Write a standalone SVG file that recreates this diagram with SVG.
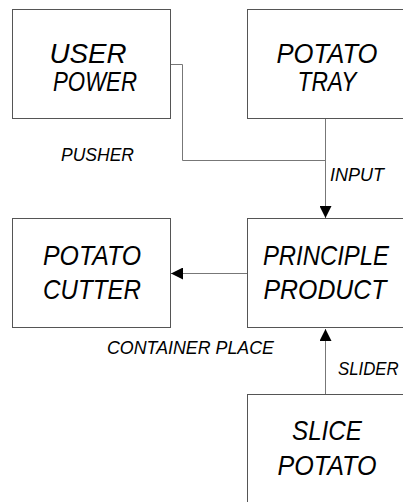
<svg xmlns="http://www.w3.org/2000/svg" width="403" height="502" viewBox="0 0 403 502">
<style>
.box{fill:#fff;stroke:#555;stroke-width:1}
.t{font-family:"Liberation Sans",Arial,sans-serif;font-style:italic;fill:#000;text-anchor:middle;font-size:27.5px}
.l{font-family:"Liberation Sans",Arial,sans-serif;font-style:italic;fill:#000;font-size:18.5px}
.c{fill:none;stroke:#777;stroke-width:1}
</style>
<defs>
<marker id="ah" viewBox="0 0 12 12" refX="12" refY="6" markerWidth="12" markerHeight="12" markerUnits="userSpaceOnUse" orient="auto">
<path d="M0,0 L12,6 L0,12 Z" fill="#000"/>
</marker>
</defs>
<rect width="403" height="502" fill="#fff"/>
<g id="connectors">
<polyline class="c" points="170.5,64.5 182.5,64.5 182.5,160.5 325.5,160.5"/>
<line class="c" x1="325.5" y1="118.5" x2="325.5" y2="218" marker-end="url(#ah)"/>
<line class="c" x1="247" y1="273.5" x2="171" y2="273.5" marker-end="url(#ah)"/>
<line class="c" x1="325.5" y1="394" x2="325.5" y2="329" marker-end="url(#ah)"/>
</g>
<g id="user-power">
<rect class="box" x="12.5" y="9.5" width="158" height="109"/>
<text class="t" x="88" y="63" textLength="77" lengthAdjust="spacingAndGlyphs">USER</text>
<text class="t" x="95" y="91" textLength="84" lengthAdjust="spacingAndGlyphs">POWER</text>
</g>
<g id="potato-tray">
<rect class="box" x="247.5" y="9.5" width="170" height="109"/>
<text class="t" x="327" y="63" textLength="101" lengthAdjust="spacingAndGlyphs">POTATO</text>
<text class="t" x="327" y="91" textLength="59" lengthAdjust="spacingAndGlyphs">TRAY</text>
</g>
<g id="potato-cutter">
<rect class="box" x="12.5" y="218.5" width="158" height="109"/>
<text class="t" x="92" y="265" textLength="98" lengthAdjust="spacingAndGlyphs">POTATO</text>
<text class="t" x="92" y="299" textLength="98" lengthAdjust="spacingAndGlyphs">CUTTER</text>
</g>
<g id="principle-product">
<rect class="box" x="247.5" y="218.5" width="170" height="109"/>
<text class="t" transform="scale(0.869,1)" x="375.1" y="265">PRINCIPLE</text>
<text class="t" x="325" y="299" textLength="123" lengthAdjust="spacingAndGlyphs">PRODUCT</text>
</g>
<g id="slice-potato">
<rect class="box" x="247.5" y="394.5" width="170" height="120"/>
<text class="t" x="327" y="440" textLength="70" lengthAdjust="spacingAndGlyphs">SLICE</text>
<text class="t" x="327" y="475" textLength="99" lengthAdjust="spacingAndGlyphs">POTATO</text>
</g>
<g id="labels">
<text class="l" x="61" y="161" textLength="73" lengthAdjust="spacingAndGlyphs">PUSHER</text>
<text class="l" x="330" y="181" textLength="54" lengthAdjust="spacingAndGlyphs">INPUT</text>
<text class="l" x="107" y="354" textLength="167" lengthAdjust="spacingAndGlyphs">CONTAINER PLACE</text>
<text class="l" transform="scale(0.91,1)" x="371.4" y="375">SLIDER</text>
</g>
</svg>
